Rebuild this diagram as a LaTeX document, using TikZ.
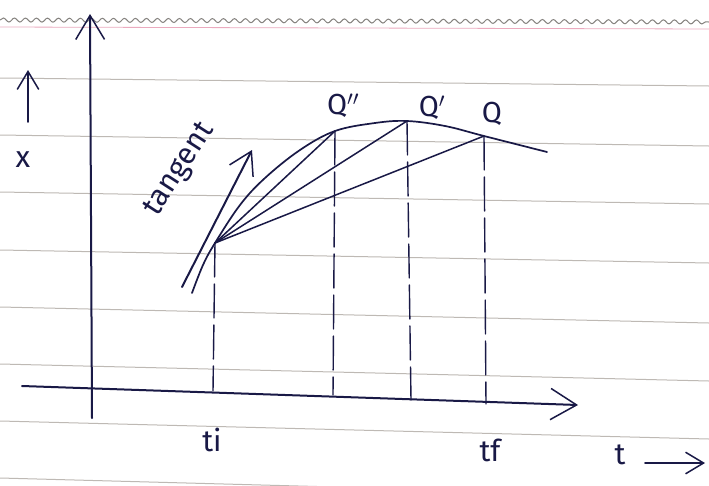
\documentclass[tikz,border=0pt]{standalone}
\usepackage{fontspec}
\setmainfont{Fira Sans}
\usetikzlibrary{arrows.meta,decorations.pathmorphing}
\definecolor{ink}{RGB}{25,25,70}
\definecolor{rule}{RGB}{190,185,180}
\definecolor{pinkrule}{RGB}{235,170,190}
\tikzset{
  ink/.style={draw=ink,line width=1.5pt,line cap=round,line join=round},
  axisline/.style={ink,line width=2pt},
  barb/.style={-{Straight Barb[length=#1,width=1.2*#1,line width=1.5pt]}},
  guide/.style={ink,line width=1.4pt,dash pattern=on 34pt off 7pt},
  paperline/.style={draw=rule,line width=1pt},
  lbl/.style={text=ink,inner sep=0pt},
  big/.style={font=\fontsize{29}{32}\selectfont},
  huge/.style={font=\fontsize{30}{34}\selectfont}
}
\begin{document}
\begin{tikzpicture}[x=1pt,y=-1pt]
\useasboundingbox[fill=white] (0,0) rectangle (709,485);
% paper
\foreach \yl/\yr in {78/86,135/146,192/204,250/263,307/323,364/381,421/439,478/497}
  \draw[paperline] (0,\yl) -- (709,\yr);
\draw[pinkrule,line width=0.8pt] (0,27) -- (709,29);
\draw[rule!70!black,line width=1pt,decorate,decoration={snake,amplitude=2pt,segment length=11pt}] (0,20) -- (709,22);
% axes
\coordinate (vb) at (92,418);
\coordinate (vt) at (90,14);
\coordinate (hl) at (22,386);
\coordinate (hr) at (578,405);
\draw[axisline,barb=24pt] (vb) -- (vt);
\draw[axisline,barb=26pt] (hl) -- (hr);
% points
\coordinate (P) at (215,243);
\coordinate (Q2) at (335,131);
\coordinate (Q1) at (407,121);
\coordinate (Q) at (484,136);
% curve
\draw[ink,line width=1.7pt] plot[smooth,tension=0.6] coordinates {(192,293) (203,265) (P) (240,205) (265,178) (300,150) (Q2) (375,123) (Q1) (445,126) (Q) (547,152)};
% chords
\draw[ink] (P) -- (Q2);
\draw[ink] (P) -- (Q1);
\draw[ink] (P) -- (Q);
% tangent
\coordinate (ts) at (182,287);
\coordinate (te) at (252,150);
\draw[ink,line width=2pt,barb=22pt] (ts) -- (te);
\node[lbl,rotate=57,font=\fontsize{30}{34}\selectfont] (tg) at (180,170) {tangent};
% guides
\coordinate (Pb) at (213,391);
\coordinate (Q2b) at (333,395);
\coordinate (Q1b) at (411,400);
\coordinate (Qb) at (486,404);
\draw[guide] (P) -- (Pb);
\draw[guide] (Q2) -- (Q2b);
\draw[guide] (Q1) -- (Q1b);
\draw[guide] (Q) -- (Qb);
% labels
\node[lbl,big] (lq2) at (343,106) {Q$''$};
\node[lbl,big] (lq1) at (432,108) {Q$'$};
\node[lbl,big] (lq) at (492,114) {Q};
\node[lbl,huge] (lti) at (212,440) {ti};
\node[lbl,huge] (ltf) at (490,450) {tf};
\node[lbl,huge] (lt) at (620,455) {t};
\coordinate (ta) at (645,463);
\coordinate (tb) at (705,463);
\draw[ink,line width=1.8pt,barb=18pt] (ta) -- (tb);
\node[lbl,huge] (lx) at (23,160) {x};
\coordinate (xa) at (28,122);
\coordinate (xb) at (28,70);
\draw[ink,line width=1.8pt,barb=18pt] (xa) -- (xb);
\end{tikzpicture}
\end{document}
